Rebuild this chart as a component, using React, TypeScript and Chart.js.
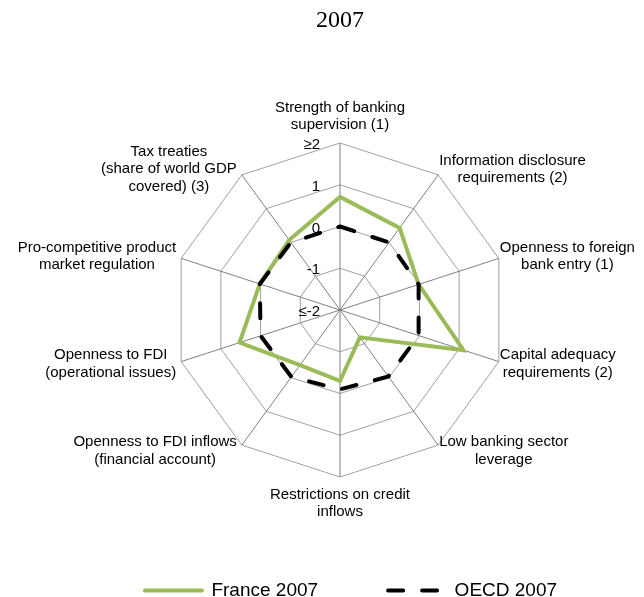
import React, { useEffect, useRef } from "react";
import { Chart, registerables } from "chart.js";

Chart.register(...registerables);

const TITLE = "2007";

const AXIS_LABELS: string[][] = [
  ["Strength of banking", "supervision (1)"],
  ["Information disclosure", "requirements (2)"],
  ["Openness to foreign", "bank entry (1)"],
  ["Capital adequacy", "requirements (2)"],
  ["Low banking sector", "leverage"],
  ["Restrictions on credit", "inflows"],
  ["Openness to FDI inflows", "(financial account)"],
  ["Openness to FDI", "(operational issues)"],
  ["Pro-competitive product", "market regulation"],
  ["Tax treaties", "(share of world GDP", "covered) (3)"],
];

const SERIES_NAMES = ["France 2007", "OECD 2007"];
const FRANCE_2007 = [0.71, 0.43, -0.02, 1.11, -1.19, -0.3, -0.37, 0.53, 0.02, 0.07];
const OECD_2007 = [0, 0, -0.02, -0.02, -0.03, -0.1, -0.02, 0, 0.02, 0];

const TICK_VALUES = [-2, -1, 0, 1, 2];
const TICK_LABELS = ["≤-2", "-1", "0", "1", "≥2"];

const SANS = '"Liberation Sans", Arial, Helvetica, sans-serif';
const SERIF = '"Liberation Serif", "Times New Roman", Times, serif';

const radarTextPlugin = {
  id: "radarText",
  afterLayout(chart: any) {
    // nudge the legend block to the right, as in the reference
    if (chart.legend) {
      chart.legend.left += 11;
      chart.legend.right += 11;
    }
  },
  beforeDatasetsDraw(chart: any) {
    const s = chart.scales.r;
    const ctx = chart.ctx;
    ctx.save();
    ctx.fillStyle = "#000";
    ctx.font = `15px ${SANS}`;
    ctx.textBaseline = "middle";
    // tick labels, to the left of the vertical axis
    ctx.textAlign = "right";
    TICK_VALUES.forEach((v, k) => {
      const d = s.getDistanceFromCenterForValue(v);
      ctx.fillText(TICK_LABELS[k], s.xCenter - 20, s.yCenter - d + 2);
    });
    // axis (point) labels, centred multi-line blocks
    const lh = 17.5;
    const labels = chart.data.labels as any[];
    ctx.textAlign = "center";
    labels.forEach((lines: any, i: number) => {
      const arr: string[] = Array.isArray(lines) ? lines : [lines];
      const p = s.getPointPosition(i, s.drawingArea);
      const theta = (i * 2 * Math.PI) / labels.length;
      const h = arr.length * lh;
      const w = Math.max(...arr.map((t) => ctx.measureText(t).width));
      const sin = Math.sin(theta);
      const cos = Math.cos(theta);
      let cx: number;
      let top: number;
      if (Math.abs(sin) < 1e-6) {
        cx = p.x;
        top = cos > 0 ? p.y - 9 - h : p.y + 9;
      } else if (sin > 0) {
        cx = p.x + 1 + w / 2;
        top = p.y - 7 * cos - h / 2;
      } else {
        cx = p.x - 5 - w / 2;
        top = p.y - 7 * cos - h / 2;
      }
      arr.forEach((t, j) => ctx.fillText(t, cx, top + lh * (j + 0.5)));
    });
    ctx.restore();
  },
};

export default function App() {
  const ref = useRef<HTMLCanvasElement>(null);

  useEffect(() => {
    if (!ref.current) return;
    const chart = new Chart(ref.current, {
      type: "radar",
      data: {
        labels: AXIS_LABELS,
        datasets: [
          {
            label: SERIES_NAMES[0],
            data: FRANCE_2007,
            borderColor: "#9BBB59",
            backgroundColor: "rgba(0,0,0,0)",
            borderWidth: 4,
            borderCapStyle: "round",
            borderJoinStyle: "miter",
            pointRadius: 0,
            pointHoverRadius: 0,
            fill: false,
            order: 1,
          },
          {
            label: SERIES_NAMES[1],
            data: OECD_2007,
            borderColor: "#000000",
            backgroundColor: "rgba(0,0,0,0)",
            borderWidth: 4,
            borderDash: [15, 19],
            borderCapStyle: "round",
            borderJoinStyle: "round",
            pointRadius: 0,
            pointHoverRadius: 0,
            fill: false,
            order: 0,
          },
        ],
      },
      options: {
        animation: false,
        responsive: false,
        devicePixelRatio: 1,
        layout: { padding: { left: 36, right: 0, top: 0, bottom: 0 } },
        scales: {
          r: {
            min: -2,
            max: 2,
            beginAtZero: false,
            ticks: { stepSize: 1, display: false },
            pointLabels: { display: false },
            grid: { color: "#a0a0a0", lineWidth: 1 },
            angleLines: { color: "#808080", lineWidth: 1 },
          },
        },
        plugins: {
          tooltip: { enabled: false },
          title: {
            display: true,
            text: TITLE,
            color: "#000",
            font: { family: SERIF, size: 24, weight: "normal" },
            padding: { top: 6, bottom: 108.2 },
          },
          legend: {
            display: true,
            position: "bottom",
            title: {
              display: true,
              text: " ",
              font: { size: 10 },
              padding: { top: 0, bottom: 22 },
            },
            labels: {
              usePointStyle: true,
              pointStyle: "line",
              pointStyleWidth: 57,
              padding: 70,
              color: "#000",
              font: { family: SANS, size: 19 },
              generateLabels: (c: any) =>
                c.data.datasets.map((ds: any, i: number) => ({
                  text: ds.label,
                  fillStyle: ds.borderColor,
                  strokeStyle: ds.borderColor,
                  fontColor: "#000",
                  lineWidth: ds.borderWidth,
                  lineDash: ds.borderDash || [],
                  lineDashOffset: 0,
                  lineCap: "round",
                  lineJoin: "round",
                  pointStyle: "line",
                  rotation: 0,
                  hidden: false,
                  datasetIndex: i,
                })),
            },
          },
        },
      },
      plugins: [radarTextPlugin],
    } as any);
    return () => chart.destroy();
  }, []);

  return (
    <div
      style={{
        position: "fixed",
        left: 0,
        top: 0,
        width: 644,
        height: 597,
        overflow: "hidden",
        background: "#fff",
      }}
    >
      <canvas ref={ref} width={644} height={610} style={{ display: "block", width: 644, height: 610 }} />
    </div>
  );
}
